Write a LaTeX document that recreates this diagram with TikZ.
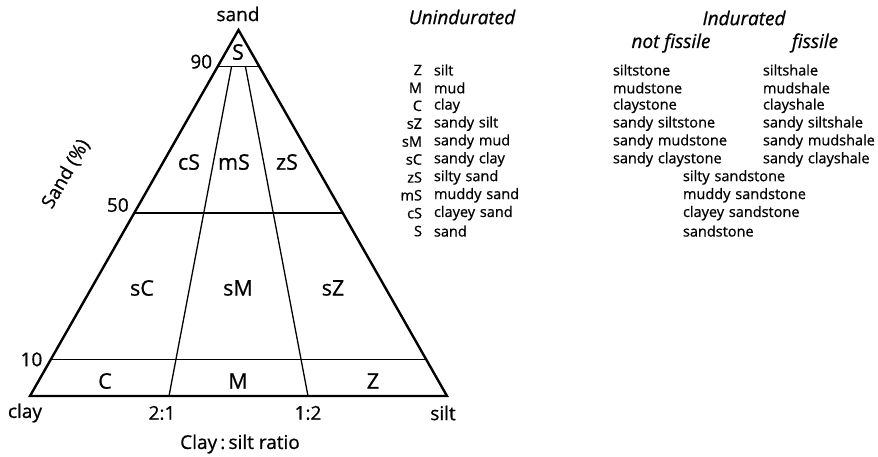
\documentclass[tikz,border=0pt]{standalone}
\usepackage{fontspec}
\setmainfont{Open Sans}[FakeBold=0.8]
\usetikzlibrary{positioning, calc}

\begin{document}
\begin{tikzpicture}[x=1pt,y=-1pt,node distance=17.9pt,on grid,
    field/.style={font=\fontsize{21.5}{22}\selectfont},
    tick/.style={font=\fontsize{19}{19}\selectfont},
    head/.style={font=\fontsize{19}{19}\selectfont\itshape},
    code/.style={font=\fontsize{14.5}{15}\selectfont,text width=30pt,align=right,inner sep=0pt},
    item/.style={font=\fontsize{14.5}{15}\selectfont,text width=150pt,align=left,inner sep=0pt},
    rim/.style={line width=2.4pt,line join=miter},
    split/.style={line width=1.3pt}]
  \useasboundingbox (0,0) rectangle (878,457);

  % corners of the triangle
  \coordinate (T) at (238.5,30);
  \coordinate (L) at (30,396);
  \coordinate (R) at (447,396);
  \coordinate (B1) at ($(L)!1/3!(R)$);
  \coordinate (B2) at ($(L)!2/3!(R)$);
  \coordinate (l90) at ($(L)!0.9!(T)$);
  \coordinate (r90) at ($(R)!0.9!(T)$);
  \coordinate (l50) at ($(L)!0.5!(T)$);
  \coordinate (r50) at ($(R)!0.5!(T)$);
  \coordinate (l10) at ($(L)!0.1!(T)$);
  \coordinate (r10) at ($(R)!0.1!(T)$);
  \coordinate (t1) at ($(T)!0.1!(B1)$);
  \coordinate (t2) at ($(T)!0.1!(B2)$);

  \draw[split] (l90) -- (r90);
  \draw[split] (l50) -- (r50);
  \draw[split] (l10) -- (r10);
  \draw[split] (B1) -- (t1);
  \draw[split] (B2) -- (t2);
  \draw[rim] (T) -- (L) -- (R) -- cycle;

  % fields
  \node[field] (S) at (238,52) {S};
  \node[field] (cS) at (189,162) {cS};
  \node[field] (mS) at (234,162) {mS};
  \node[field] (zS) at (287,162) {zS};
  \node[field] (sC) at (142,288) {sC};
  \node[field] (sM) at (238,288) {sM};
  \node[field] (sZ) at (333,288) {sZ};
  \node[field] (C) at (105,381) {C};
  \node[field] (M) at (238,381) {M};
  \node[field] (Z) at (373,381) {Z};

  % axes
  \node[tick] (sand) at (238,14) {sand};
  \node[tick,anchor=east] at ($(l90)+(-2,-5)$) (p90) {90};
  \node[tick,anchor=east] at ($(l50)+(-2,-8)$) (p50) {50};
  \node[tick,anchor=east] at ($(l10)+(-5,0)$) (p10) {10};
  \node[tick,rotate=60] (sandp) at (66,174) {Sand (\%)};
  \node[tick] (clay) at (25,413) {clay};
  \node[tick] (r21) at (162,413) {2:1};
  \node[tick] (r12) at (308,413) {1:2};
  \node[tick] (silt) at (443,413) {silt};
  \node[tick] (ratio) at (240,444) {Clay\,:\,silt ratio};

  % unindurated
  \node[head] (unind) at (462,17) {Unindurated};
  \node[code] (kZ) at (407,70) {Z};
  \node[code] (kM) [below=of kZ] {M};
  \node[code] (kC) [below=of kM] {C};
  \node[code] (ksZ) [below=of kC] {sZ};
  \node[code] (ksM) [below=of ksZ] {sM};
  \node[code] (ksC) [below=of ksM] {sC};
  \node[code] (kzS) [below=of ksC] {zS};
  \node[code] (kmS) [below=of kzS] {mS};
  \node[code] (kcS) [below=of kmS] {cS};
  \node[code] (kS) [below=of kcS] {S};
  \node[item] (nZ) [right=102pt of kZ] {silt};
  \node[item] (nM) [right=102pt of kM] {mud};
  \node[item] (nC) [right=102pt of kC] {clay};
  \node[item] (nsZ) [right=102pt of ksZ] {sandy silt};
  \node[item] (nsM) [right=102pt of ksM] {sandy mud};
  \node[item] (nsC) [right=102pt of ksC] {sandy clay};
  \node[item] (nzS) [right=102pt of kzS] {silty sand};
  \node[item] (nmS) [right=102pt of kmS] {muddy sand};
  \node[item] (ncS) [right=102pt of kcS] {clayey sand};
  \node[item] (nS) [right=102pt of kS] {sand};

  % indurated
  \node[head] (ind) at (744,18) {Indurated};
  \node[head] (nofis) at (671,43) {not fissile};
  \node[head] (fis) at (815,43) {fissile};
  \node[item] (a1) at (688,70) {siltstone};
  \node[item] (a2) [below=of a1] {mudstone};
  \node[item] (a3) [below=of a2] {claystone};
  \node[item] (a4) [below=of a3] {sandy siltstone};
  \node[item] (a5) [below=of a4] {sandy mudstone};
  \node[item] (a6) [below=of a5] {sandy claystone};
  \node[item] (b1) at (838,70) {siltshale};
  \node[item] (b2) [below=of b1] {mudshale};
  \node[item] (b3) [below=of b2] {clayshale};
  \node[item] (b4) [below=of b3] {sandy siltshale};
  \node[item] (b5) [below=of b4] {sandy mudshale};
  \node[item] (b6) [below=of b5] {sandy clayshale};
  \node[item] (c1) [below=of a6, xshift=70pt] {silty sandstone};
  \node[item] (c2) [below=of c1] {muddy sandstone};
  \node[item] (c3) [below=of c2] {clayey sandstone};
  \node[item] (c4) [below=of c3] {sandstone};
\end{tikzpicture}
\end{document}
